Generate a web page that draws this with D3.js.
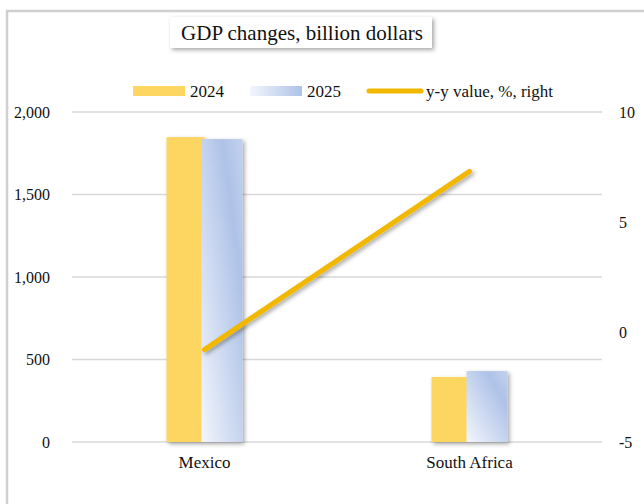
<!DOCTYPE html>
<html lang="en">

<head>
  <meta charset="UTF-8">
  <title>GDP changes</title>
  <script src="https://cdn.jsdelivr.net/npm/d3@7"></script>
  <style type="text/css">
    html,
    body {
      margin: 0;
      background: #fff;
    }

    text {
      font-family: "Liberation Serif", "Times New Roman", Times, serif;
      fill: #111;
    }

    .grid line {
      stroke: #d9d9d9;
      stroke-width: 1.5;
    }
  </style>
</head>

<body>
  <script>
    var categories = ['Mexico', 'South Africa'];
    var gdp2024 = [1848, 394];
    var gdp2025 = [1836, 430];
    var yyValue = [-0.8, 7.3];
    var leftTicks = [0, 500, 1000, 1500, 2000];
    var rightTicks = [-5, 0, 5, 10];
    var seriesNames = ['2024', '2025', 'y-y value, %, right'];

    var w = 644;
    var h = 504;
    var plot = { left: 72, right: 602, top: 112, bottom: 442 };

    var svg = d3.select('body')
      .append('svg')
      .attr('width', w)
      .attr('height', h);

    var defs = svg.append('defs');

    var blue = defs.append('linearGradient')
      .attr('id', 'blueBar')
      .attr('x1', '0').attr('y1', '1')
      .attr('x2', '1').attr('y2', '0');
    blue.append('stop').attr('offset', '0%').attr('stop-color', '#f3f6fc');
    blue.append('stop').attr('offset', '75%').attr('stop-color', '#aec2e8');
    blue.append('stop').attr('offset', '100%').attr('stop-color', '#c3d1ee');

    var blueLegend = defs.append('linearGradient')
      .attr('id', 'blueLegend')
      .attr('x1', '0').attr('y1', '0')
      .attr('x2', '1').attr('y2', '0');
    blueLegend.append('stop').attr('offset', '0%').attr('stop-color', '#f3f6fc');
    blueLegend.append('stop').attr('offset', '100%').attr('stop-color', '#aec2e8');

    var shadow = defs.append('filter').attr('id', 'shadow')
      .attr('x', '-20%').attr('y', '-20%').attr('width', '150%').attr('height', '150%');
    shadow.append('feDropShadow')
      .attr('dx', 2).attr('dy', 2).attr('stdDeviation', 2)
      .attr('flood-color', '#000').attr('flood-opacity', 0.35);

    // chart frame
    svg.append('rect')
      .attr('x', 7).attr('y', 11)
      .attr('width', w + 20).attr('height', h + 20)
      .attr('fill', '#fff')
      .attr('stroke', '#d0d0d0')
      .attr('stroke-width', 2.5);

    var x = d3.scaleBand()
      .domain(categories)
      .range([plot.left, plot.right]);

    var yLeft = d3.scaleLinear()
      .domain([0, 2000])
      .range([plot.bottom, plot.top]);

    var yRight = d3.scaleLinear()
      .domain([-5, 10])
      .range([plot.bottom, plot.top]);

    // gridlines
    svg.append('g')
      .attr('class', 'grid')
      .selectAll('line')
      .data(leftTicks)
      .join('line')
      .attr('x1', plot.left)
      .attr('x2', plot.right)
      .attr('y1', function (d) { return yLeft(d); })
      .attr('y2', function (d) { return yLeft(d); });

    function styleAxis(g, size) {
      g.select('.domain').remove();
      g.attr('font-family', null);
      g.selectAll('text').attr('font-size', size).attr('fill', '#111');
    }

    // left axis
    var leftAxis = svg.append('g')
      .attr('transform', 'translate(' + (plot.left - 19) + ',0)')
      .call(d3.axisLeft(yLeft).tickValues(leftTicks).tickSize(0).tickFormat(d3.format(',')));
    styleAxis(leftAxis, 16);

    // right axis
    var rightAxis = svg.append('g')
      .attr('transform', 'translate(' + (plot.right + 14) + ',0)')
      .call(d3.axisRight(yRight).tickValues(rightTicks).tickSize(0)
        .tickFormat(function (d) { return String(d); }));
    styleAxis(rightAxis, 16);

    // category axis
    var catAxis = svg.append('g')
      .attr('transform', 'translate(0,' + (plot.bottom + 11) + ')')
      .call(d3.axisBottom(x).tickSize(0));
    styleAxis(catAxis, 17);

    var barW = 38;
    var bars = svg.append('g').attr('filter', 'url(#shadow)');

    bars.selectAll('rect.y2024')
      .data(categories)
      .join('rect')
      .attr('class', 'y2024')
      .attr('x', function (d) { return x(d) + x.bandwidth() / 2 - barW; })
      .attr('width', barW)
      .attr('y', function (d, i) { return yLeft(gdp2024[i]); })
      .attr('height', function (d, i) { return yLeft(0) - yLeft(gdp2024[i]); })
      .attr('fill', '#fcd660');

    bars.selectAll('rect.y2025')
      .data(categories)
      .join('rect')
      .attr('class', 'y2025')
      .attr('x', function (d) { return x(d) + x.bandwidth() / 2 - 3; })
      .attr('width', barW + 3)
      .attr('y', function (d, i) { return yLeft(gdp2025[i]); })
      .attr('height', function (d, i) { return yLeft(0) - yLeft(gdp2025[i]); })
      .attr('fill', 'url(#blueBar)');

    // y-y line
    var line = d3.line()
      .x(function (d, i) { return x(categories[i]) + x.bandwidth() / 2; })
      .y(function (d) { return yRight(d); });

    svg.append('path')
      .datum(yyValue)
      .attr('d', line)
      .attr('fill', 'none')
      .attr('stroke', '#f2b800')
      .attr('stroke-width', 5)
      .attr('stroke-linecap', 'round')
      .attr('filter', 'url(#shadow)');

    // title box
    var title = svg.append('g');
    title.append('rect')
      .attr('x', 170).attr('y', 17)
      .attr('width', 262).attr('height', 31)
      .attr('fill', '#fff')
      .attr('filter', 'url(#shadow)');
    title.append('text')
      .attr('x', 302).attr('y', 40)
      .attr('text-anchor', 'middle')
      .attr('font-size', 21)
      .text('GDP changes, billion dollars');

    // legend
    var legendItems = [
      { name: seriesNames[0], x: 133, fill: '#fcd660', type: 'rect' },
      { name: seriesNames[1], x: 250, fill: 'url(#blueLegend)', type: 'rect' },
      { name: seriesNames[2], x: 369, fill: '#f2b800', type: 'line' }
    ];
    var legend = svg.append('g').attr('transform', 'translate(0,91)');
    legendItems.forEach(function (d) {
      if (d.type === 'rect') {
        legend.append('rect')
          .attr('x', d.x).attr('y', -5)
          .attr('width', 52).attr('height', 10)
          .attr('fill', d.fill);
      } else {
        legend.append('line')
          .attr('x1', d.x).attr('x2', d.x + 52)
          .attr('y1', 0).attr('y2', 0)
          .attr('stroke', d.fill)
          .attr('stroke-width', 5)
          .attr('stroke-linecap', 'round');
      }
      legend.append('text')
        .attr('x', d.x + 57).attr('y', 6)
        .attr('font-size', 17)
        .text(d.name);
    });
  </script>
</body>

</html>
